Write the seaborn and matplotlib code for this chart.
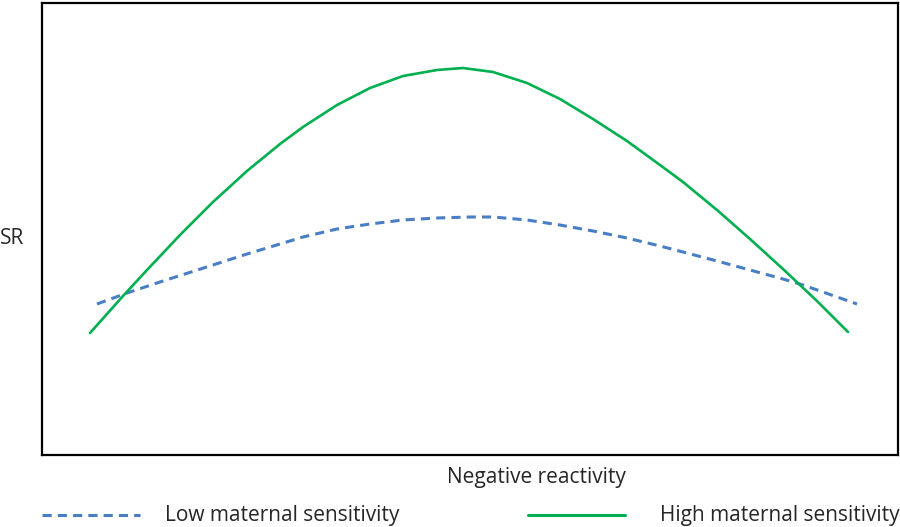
import matplotlib
matplotlib.use("Agg")
import matplotlib.pyplot as plt
from matplotlib.lines import Line2D
import seaborn as sns
import pandas as pd

# Values (arbitrary units)
high_x = [48, 81, 105, 138, 171, 205, 238, 261, 295, 328, 361, 395, 421,
          451, 485, 518, 551, 585, 618, 641, 675, 708, 741, 775, 806]
high_y = [122, 159, 185, 220, 253, 284, 311, 328, 350, 367, 379, 385, 387,
          383, 372, 356, 336, 314, 290, 273, 245, 216, 186, 154, 123]
low_x = [55, 85, 121, 171, 205, 238, 261, 295, 328, 361, 395, 428, 451,
         485, 518, 551, 585, 618, 641, 675, 708, 741, 761, 815]
low_y = [151, 162, 174, 190, 201, 211, 218, 226, 231, 235, 237, 238, 238,
         235, 230, 224, 217, 209, 203, 194, 185, 176, 170, 151]

labels = ["Low maternal sensitivity", "High maternal sensitivity"]
x_label = "Negative reactivity"
y_label = "SR"

sns.set_theme(style="white")
plt.rcParams['font.family'] = ['Open Sans', 'DejaVu Sans']

GREEN = "#00B050"
BLUE = "#4A7EC4"

fig = plt.figure(figsize=(9, 5.27), dpi=100)
ax = fig.add_axes([42 / 900, (527 - 455) / 527, 856 / 900, 452 / 527])

df_high = pd.DataFrame({"x": high_x, "y": high_y})
df_low = pd.DataFrame({"x": low_x, "y": low_y})
sns.lineplot(data=df_low, x="x", y="y", ax=ax, color=BLUE, lw=2.2,
             linestyle=(0, (3, 2)), sort=False)
sns.lineplot(data=df_high, x="x", y="y", ax=ax, color=GREEN, lw=1.9, sort=False)
for ln in ax.lines:
    ln.set_solid_joinstyle("round")
    ln.set_dash_joinstyle("round")

ax.set_xlim(0, 856)
ax.set_ylim(0, 452)
ax.set_xticks([])
ax.set_yticks([])
ax.set_xlabel("")
ax.set_ylabel("")
for s in ax.spines.values():
    s.set_visible(True)
    s.set_color("black")
    s.set_linewidth(1.6)

fs = 15
fig.text(0 / 900, 1 - 238 / 527, y_label, fontsize=fs, ha="left", va="center")
fig.text(536 / 900, 1 - 478 / 527, x_label, fontsize=fs, ha="center", va="center")

ly = 1 - 515 / 527
fig.add_artist(Line2D([42 / 900, 140 / 900], [ly, ly], color=BLUE, lw=2.2,
                      linestyle=(0, (3, 2)), transform=fig.transFigure))
fig.add_artist(Line2D([528 / 900, 625 / 900], [ly, ly], color=GREEN, lw=2.2,
                      transform=fig.transFigure))
fig.text(165 / 900, ly, labels[0], fontsize=fs, ha="left", va="center")
fig.text(660 / 900, ly, labels[1], fontsize=fs, ha="left", va="center")

fig.savefig("out.png", dpi=100)
